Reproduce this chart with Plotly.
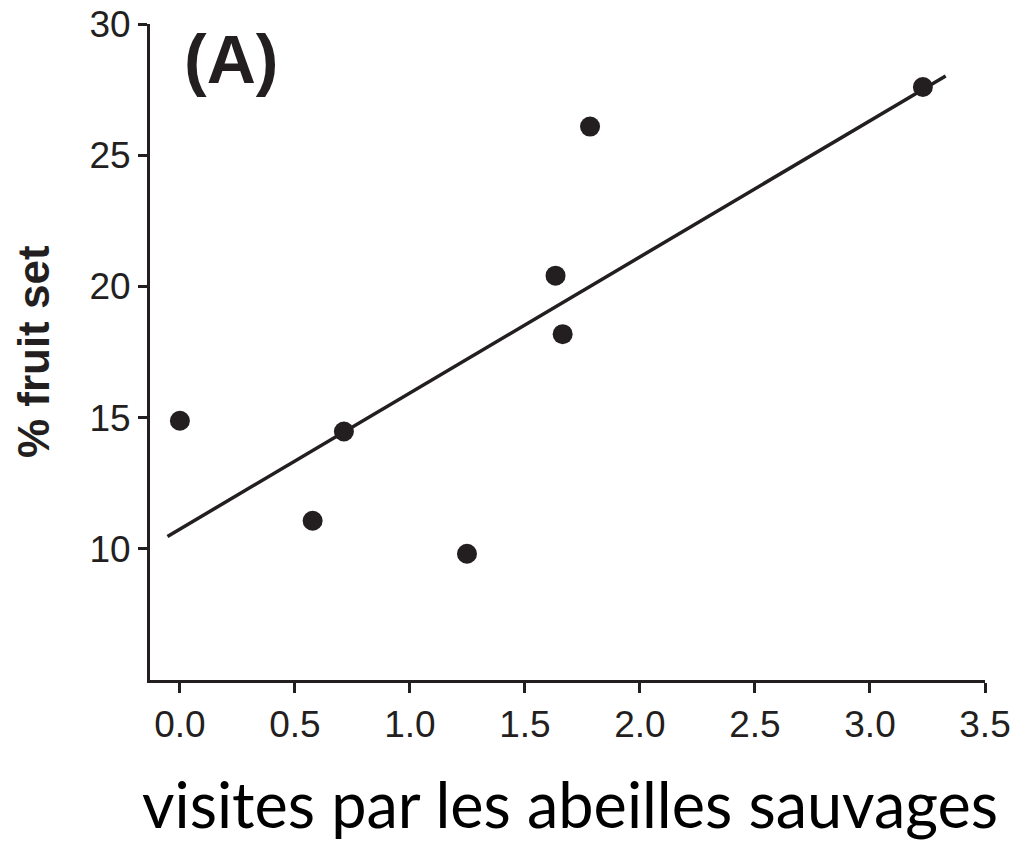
import plotly.graph_objects as go

# Data
visits = [0.0, 0.577, 0.713, 1.248, 1.633, 1.664, 1.783, 3.230]
fruit_set = [14.88, 11.07, 14.47, 9.81, 20.41, 18.18, 26.09, 27.60]

# Regression line endpoints
fit_x = [-0.054, 3.329]
fit_y = [10.47, 28.02]

x_ticks = [0.0, 0.5, 1.0, 1.5, 2.0, 2.5, 3.0, 3.5]
y_ticks = [10, 15, 20, 25, 30]

INK = "#231f20"
SANS = "Liberation Sans"
TICK_FONT = dict(family=SANS, size=37, color=INK)

fig = go.Figure()
fig.add_trace(go.Scatter(x=fit_x, y=fit_y, mode="lines",
                         line=dict(color=INK, width=3.5), hoverinfo="skip"))
fig.add_trace(go.Scatter(x=visits, y=fruit_set, mode="markers",
                         marker=dict(color=INK, size=20, line=dict(width=0))))

fig.update_layout(
    width=1018, height=841,
    margin=dict(l=150, r=33, t=24, b=161, autoexpand=False),
    paper_bgcolor="white", plot_bgcolor="white",
    showlegend=False,
    font=dict(family=SANS),
    xaxis=dict(range=[-0.13, 3.5], tickvals=x_ticks,
               ticktext=[f"{v:.1f}" for v in x_ticks],
               showgrid=False, zeroline=False, automargin=False,
               showline=True, linecolor=INK, linewidth=3,
               ticks="outside", ticklen=10, tickwidth=3, tickcolor=INK,
               tickfont=TICK_FONT),
    yaxis=dict(range=[5, 30], tickvals=y_ticks,
               ticktext=[str(v) for v in y_ticks],
               showgrid=False, zeroline=False, automargin=False,
               showline=True, linecolor=INK, linewidth=3,
               ticks="outside", ticklen=9, tickwidth=3, tickcolor=INK,
               tickfont=TICK_FONT),
    annotations=[
        dict(text="<b>(A)</b>", xref="paper", yref="paper", x=0.097, y=0.947,
             xanchor="center", yanchor="middle", showarrow=False,
             font=dict(family=SANS, size=68, color=INK)),
        dict(text="<b>% fruit set</b>", xref="paper", yref="paper", x=-0.140, y=0.5,
             xanchor="center", yanchor="middle", showarrow=False, textangle=-90,
             font=dict(family=SANS, size=44, color=INK)),
        dict(text="visites par les abeilles sauvages", xref="paper", yref="paper",
             x=0.503, y=-0.189, xanchor="center", yanchor="middle", showarrow=False,
             font=dict(family="Lato", size=63, color="black")),
    ],
)

fig.write_html("out.html")
